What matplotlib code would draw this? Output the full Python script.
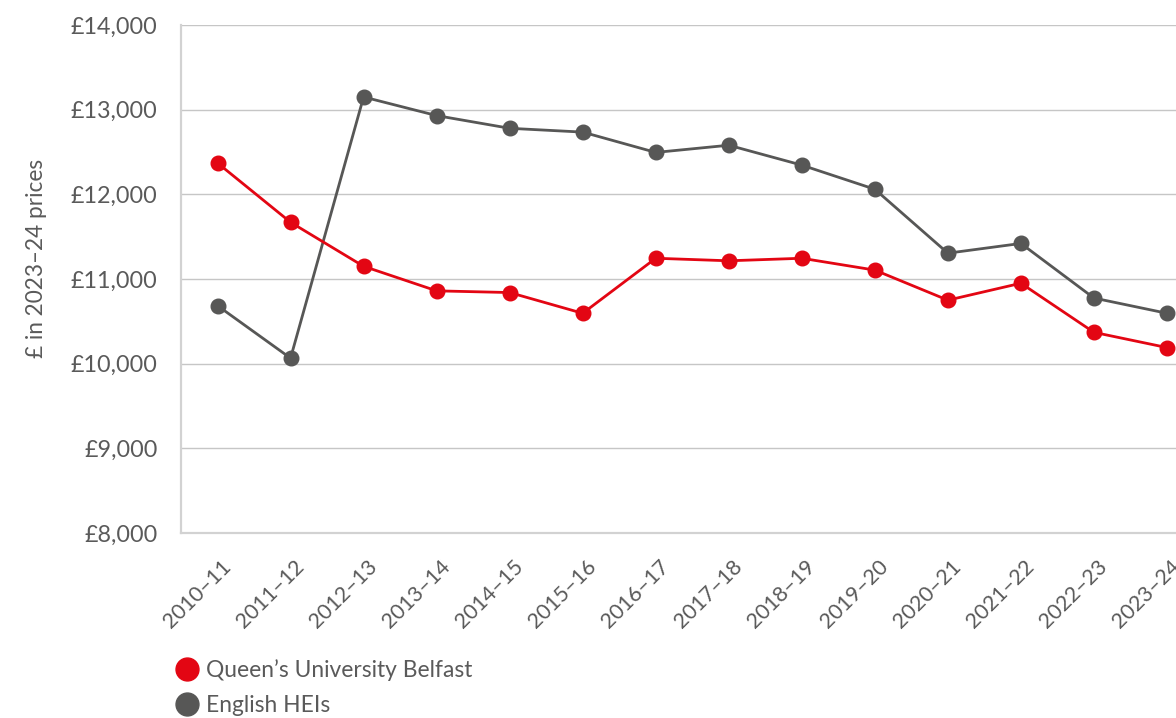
import numpy as np
import matplotlib
matplotlib.use("Agg")
import matplotlib.pyplot as plt
import matplotlib.transforms as mtransforms
from matplotlib.lines import Line2D
from matplotlib.ticker import FuncFormatter

# data
years = ['2010–11', '2011–12', '2012–13', '2013–14', '2014–15', '2015–16', '2016–17',
         '2017–18', '2018–19', '2019–20', '2020–21', '2021–22', '2022–23', '2023–24']
queens = [12370, 11670, 11150, 10860, 10840, 10595, 11245,
          11215, 11245, 11105, 10750, 10950, 10370, 10190]
english = [10685, 10065, 13150, 12930, 12780, 12735, 12495,
           12580, 12345, 12060, 11305, 11420, 10775, 10595]

red = '#e30613'
dark = '#575756'
text_col = '#5a5a5a'
grid_col = '#c6c6c6'

plt.rcParams['font.family'] = ['Lato', 'DejaVu Sans']

W, H = 1176, 718
fig = plt.figure(figsize=(W / 100, H / 100), dpi=100)
# axes runs past the right edge, like the cropped original
ax = fig.add_axes([181 / W, (H - 533) / H, (1203.5 - 181) / W, 508 / H])

x = np.arange(len(years))
ax.plot(x, english, color=dark, lw=2.0, marker='o', ms=10.5, zorder=3)
ax.plot(x, queens, color=red, lw=2.0, marker='o', ms=10.5, zorder=4)

ax.set_xlim(-0.5, len(years) - 0.5)
ax.set_ylim(8000, 14000)
ax.set_yticks(np.arange(8000, 14001, 1000))
ax.yaxis.set_major_formatter(FuncFormatter(lambda v, p: '£{:,.0f}'.format(v)))
ax.grid(axis='y', color=grid_col, lw=1.0)
ax.set_axisbelow(True)

for s in ['top', 'right']:
    ax.spines[s].set_visible(False)
for s in ['left', 'bottom']:
    ax.spines[s].set_color('#d2d2d2')
    ax.spines[s].set_linewidth(1.6)

ax.tick_params(length=0, labelcolor=text_col)
ax.tick_params(axis='y', labelsize=16.8, pad=17)
ax.set_xticks(x)
ax.set_xticklabels(years, rotation=45, ha='right', rotation_mode='anchor')
ax.tick_params(axis='x', labelsize=15.5, pad=17)
# nudge the rotated labels a little to the right
shift = mtransforms.ScaledTranslation(3 / 100, 0, fig.dpi_scale_trans)
for lab in ax.get_xticklabels():
    lab.set_transform(lab.get_transform() + shift)

fig.text(37 / W, 1 - 258 / H, '£ in 2023–24 prices', rotation=90, ha='center', va='center',
         fontsize=16.3, color=text_col)

handles = [Line2D([], [], ls='', marker='o', ms=16.5, color=red),
           Line2D([], [], ls='', marker='o', ms=16.5, color=dark)]
fig.legend(handles, ['Queen’s University Belfast', 'English HEIs'],
           loc='upper left', bbox_to_anchor=(178 / W, 1 - 659 / H), frameon=False,
           fontsize=16.4, labelcolor=text_col, handlelength=0.8, handletextpad=0.45,
           labelspacing=0.6, borderpad=0, borderaxespad=0)

fig.savefig('out.png', dpi=100)
